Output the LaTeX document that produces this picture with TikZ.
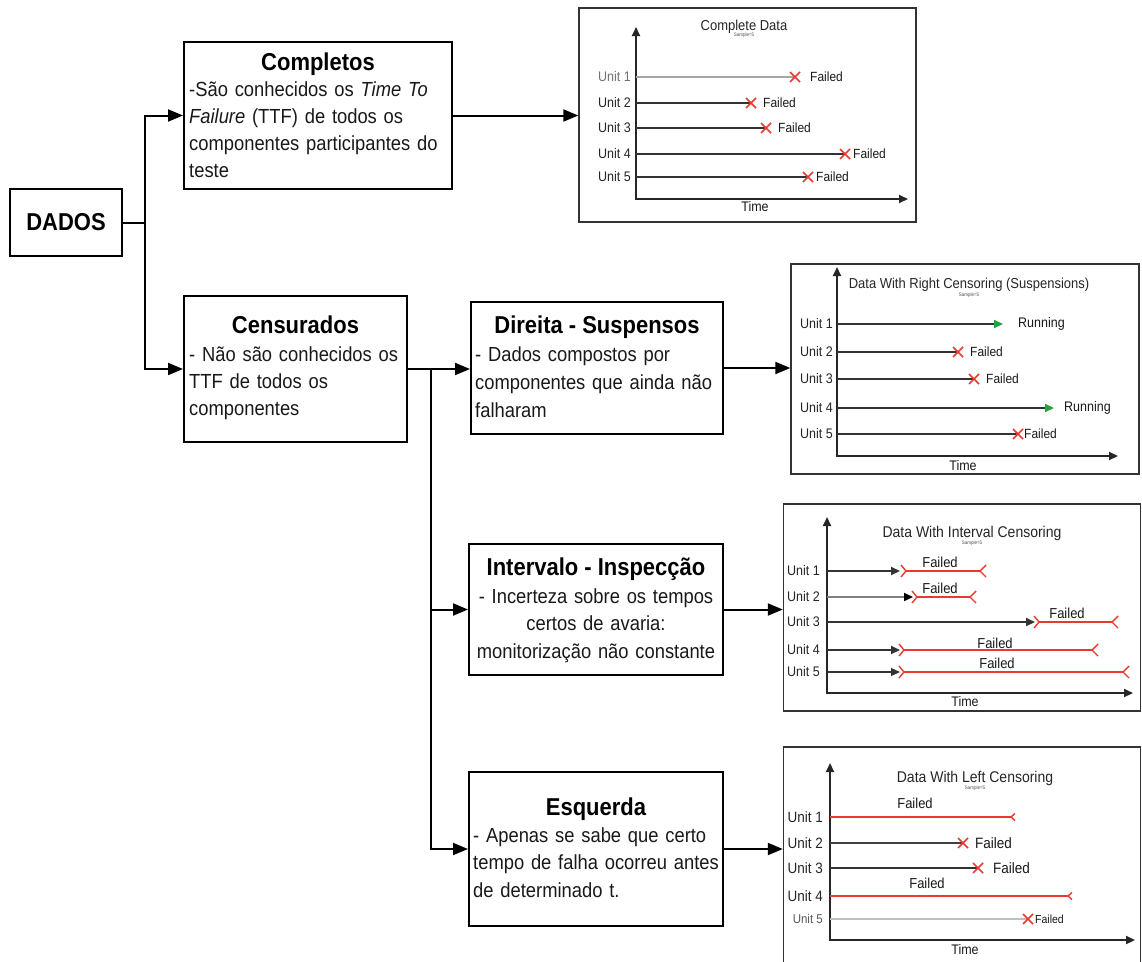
\documentclass[tikz,border=0pt]{standalone}
\usepackage{fontspec}
\setmainfont{Liberation Sans}[FakeStretch=0.9]
\usetikzlibrary{arrows.meta,calc}
\definecolor{redx}{RGB}{232,58,48}
\definecolor{greenx}{RGB}{40,160,60}
\definecolor{txt}{RGB}{25,25,25}
\newcommand{\fsz}[1]{\fontsize{\the\dimexpr #1pt*111/100\relax}{#1pt}\selectfont}
\newcommand{\bodyfont}[1]{\fontsize{20.4}{#1}\selectfont}
\begin{document}
\begin{tikzpicture}[x=1pt,y=-1pt,
  box/.style={draw, line width=2pt, inner sep=0pt},
  frame/.style={draw=black!80, line width=1.4pt, inner sep=0pt},
  conn/.style={line width=2pt},
  arr/.style={line width=2pt, -{Triangle[length=15pt,width=12pt]}},
  axisl/.style={line width=2pt, black!85, {Triangle[length=9pt,width=8pt]}-{Triangle[length=9pt,width=8pt]}},
  uline/.style={line width=1.9pt, black!80},
  lline/.style={line width=1.1pt, black!35},
  rline/.style={line width=1.9pt, redx},
  ttl/.style={anchor=base, inner sep=0pt, font=\bfseries\fsz{22}},
  bodyl/.style={anchor=base west, inner sep=0pt, text width=262pt, align=left, text=txt},
  bodyc/.style={anchor=base, inner sep=0pt, text width=254pt, align=center, text=txt},
  ulbl/.style={anchor=east, inner sep=0pt, font=\fsz{12.5}, text=black!85},
  fl/.style={anchor=west, inner sep=0pt, font=\fsz{12}, text=black!90},
  flc/.style={anchor=center, inner sep=0pt, font=\fsz{13}, text=black!90},
  ctitle/.style={anchor=center, inner sep=0pt, font=\fsz{13}, text=black!85},
  samp/.style={anchor=center, inner sep=0pt, font=\fsz{4.5}, text=black!70},
  timel/.style={anchor=center, inner sep=0pt, font=\fsz{12.5}, text=black!90},
  xc/.pic={\draw[redx, line width=1.5pt] (-5,-5) -- (5,5) (-5,5) -- (5,-5);},
  lbr/.pic={\draw[redx, line width=1.4pt] (-5,-6) -- (0,0) -- (-5,6);},
  rbr/.pic={\draw[redx, line width=1.4pt] (6,-6) -- (0,0) -- (6,6);},
  sbr/.pic={\draw[redx, line width=1.4pt] (4,-3.5) -- (0,0) -- (4,3.5);}
]
\useasboundingbox[fill=white] (0,0) rectangle (1142,961);

% ---------------- flowchart boxes ----------------
\node[box, minimum width=112pt, minimum height=67pt, font=\bfseries\fsz{22}] (dados) at (66,222.5) {DADOS};
\node[box, minimum width=268pt, minimum height=147pt] (comp) at (318,115.5) {};
\node[box, minimum width=223pt, minimum height=146pt] (cens) at (295.5,369) {};
\node[box, minimum width=252pt, minimum height=132pt] (dir) at (597,368) {};
\node[box, minimum width=254pt, minimum height=131pt] (int) at (596,609.5) {};
\node[box, minimum width=254pt, minimum height=154pt] (esq) at (596,849) {};

\node[ttl] (compt) at (318,70) {Completos};
\node[bodyl, font=\bodyfont{27}] (compb) at (189,96) {-São conhecidos os \textit{Time To}\\\textit{Failure} (TTF) de todos os\\componentes participantes do\\teste};

\node[ttl] (censt) at (295.5,333) {Censurados};
\node[bodyl, font=\bodyfont{27}] (censb) at (189,361) {- Não são conhecidos os\\TTF de todos os\\componentes};

\node[ttl] (dirt) at (597,333) {Direita - Suspensos};
\node[bodyl, font=\bodyfont{28}] (dirb) at (475,361) {- Dados compostos por\\componentes que ainda não\\falharam};

\node[ttl] (intt) at (596,575) {Intervalo - Inspecção};
\node[bodyc, font=\bodyfont{27.5}] (intb) at (596,603) {- Incerteza sobre os tempos\\certos de avaria:\\monitorização não constante};

\node[ttl] (esqt) at (596,815) {Esquerda};
\node[bodyl, font=\bodyfont{27.5}] (esqb) at (473,842) {- Apenas se sabe que certo\\tempo de falha ocorreu antes\\de determinado t.};

% ---------------- chart frames ----------------
\node[frame, minimum width=337pt, minimum height=214pt] (ch1) at (747.5,115) {};
\node[frame, minimum width=348pt, minimum height=210pt] (ch2) at (965,369) {};
\node[frame, minimum width=357pt, minimum height=207pt] (ch3) at (962,607.5) {};
\node[frame, minimum width=357pt, minimum height=228pt] (ch4) at (962,861) {};

% ---------------- connectors ----------------
\coordinate (j1) at (145,222.5);
\coordinate (j2) at (431,369);
\draw[conn] (dados.east) -- (j1);
\draw[arr] (j1) |- (comp.west);
\draw[arr] (j1) |- (cens.west);
\draw[arr] (cens.east) -- (dir.west |- cens.east);
\draw[arr] (j2) |- (int.west);
\draw[arr] (j2) |- (esq.west);
\draw[arr] (comp.east) -- (ch1.west |- comp.east);
\draw[arr] (dir.east) -- (ch2.west |- dir.east);
\draw[arr] (int.east) -- (ch3.west |- int.east);
\draw[arr] (esq.east) -- (ch4.west |- esq.east);

% ---------------- chart 1 : complete data ----------------
\draw[axisl] (636,27) -- (636,199) -- (908,199);
\node[ctitle] (c1t) at (744,27) {Complete Data};
\node[samp] (c1s) at (744,35) {Sample=5};
\node[ulbl, text=black!55] (c1u1) at (631,77) {Unit 1};
\draw[lline] (636,77) -- (795,77);
\pic at (795,77) {xc};
\node[fl] (c1f1) at (810,77) {Failed};
\foreach \i/\yy/\xe/\fx in {2/103/751/763, 3/128/766/778, 4/154/845/853, 5/177/808/816}{
  \node[ulbl] (c1u\i) at (631,\yy) {Unit \i};
  \draw[uline] (636,\yy) -- (\xe,\yy);
  \pic at (\xe,\yy) {xc};
  \node[fl] (c1f\i) at (\fx,\yy) {Failed};
}
\node[timel] (c1time) at (755,207) {Time};

% ---------------- chart 2 : right censoring ----------------
\draw[axisl] (837,267) -- (837,456) -- (1118,456);
\node[ctitle] (c2t) at (969,285) {Data With Right Censoring (Suspensions)};
\node[samp] (c2s) at (969,295) {Sample=5};
\foreach \i/\yy in {1/324, 2/352, 3/379, 4/408, 5/434}{
  \node[ulbl] (c2u\i) at (833,\yy) {Unit \i};
}
\draw[uline, -{Triangle[length=9pt,width=8pt,color=greenx]}] (837,324) -- (1003,324);
\node[fl, font=\fsz{12.5}] (c2r1) at (1018,324) {Running};
\draw[uline] (837,352) -- (958,352); \pic at (958,352) {xc};
\node[fl] (c2f2) at (970,352) {Failed};
\draw[uline] (837,379) -- (974,379); \pic at (974,379) {xc};
\node[fl] (c2f3) at (986,379) {Failed};
\draw[uline, -{Triangle[length=9pt,width=8pt,color=greenx]}] (837,408) -- (1054,408);
\node[fl, font=\fsz{12.5}] (c2r4) at (1064,408) {Running};
\draw[uline] (837,434) -- (1018,434); \pic at (1018,434) {xc};
\node[fl] (c2f5) at (1024,434) {Failed};
\node[timel] (c2time) at (963,466) {Time};

% ---------------- chart 3 : interval censoring ----------------
\draw[axisl] (827,517) -- (827,693) -- (1133,693);
\node[ctitle, font=\fsz{14}] (c3t) at (972,533) {Data With Interval Censoring};
\node[samp] (c3s) at (972,543) {Sample=5};
\foreach \i/\yy/\xa/\xb/\xc/\fx/\fy in {1/571/900/906/980/940/562, 2/597/913/917/970/940/588, 3/622/1035/1039/1112/1067/613, 4/650/900/904/1092/995/643, 5/672/900/904/1123/997/663}{
  \node[ulbl] (c3u\i) at (820,\yy) {Unit \i};
  \draw[rline] (\xb,\yy) -- (\xc,\yy);
  \pic at (\xb,\yy) {lbr};
  \pic at (\xc,\yy) {rbr};
  \node[flc] (c3f\i) at (\fx,\fy) {Failed};
}
\draw[uline, -{Triangle[length=9pt,width=8pt]}] (827,571) -- (900,571);
\draw[uline, black!50, -{Triangle[length=9pt,width=8pt,color=black]}] (827,597) -- (913,597);
\draw[uline, -{Triangle[length=9pt,width=8pt]}] (827,622) -- (1035,622);
\draw[uline, -{Triangle[length=9pt,width=8pt]}] (827,650) -- (900,650);
\draw[line width=1.1pt, black!80, -{Triangle[length=9pt,width=8pt]}] (827,672) -- (900,672);
\node[timel] (c3time) at (965,702) {Time};

% ---------------- chart 4 : left censoring ----------------
\draw[axisl] (830,763) -- (830,940) -- (1135,940);
\node[ctitle, font=\fsz{14}] (c4t) at (975,778) {Data With Left Censoring};
\node[samp] (c4s) at (975,788) {Sample=5};
\foreach \i/\yy in {1/817, 2/843, 3/868, 4/896}{
  \node[ulbl, font=\fsz{13.5}] (c4u\i) at (823,\yy) {Unit \i};
}
\node[ulbl, font=\fsz{11.5}, text=black!65] (c4u5) at (823,919) {Unit 5};
\draw[rline] (830,817) -- (1011,817); \pic at (1011,817) {sbr};
\node[flc] (c4fa) at (915,803) {Failed};
\draw[line width=2.5pt, black!75] (830,843) -- (963,843); \pic at (963,843) {xc};
\node[fl, font=\fsz{13.5}] (c4f2) at (975,843) {Failed};
\draw[uline] (830,868) -- (978,868); \pic at (978,868) {xc};
\node[fl, font=\fsz{13.5}] (c4f3) at (993,868) {Failed};
\draw[rline] (830,896) -- (1068,896); \pic at (1068,896) {sbr};
\node[flc] (c4fb) at (927,883) {Failed};
\draw[lline, black!25] (830,919) -- (1028,919); \pic at (1028,919) {xc};
\node[fl, font=\fsz{10.5}] (c4f5) at (1035,919) {Failed};
\node[timel] (c4time) at (965,950) {Time};
\end{tikzpicture}
\end{document}
